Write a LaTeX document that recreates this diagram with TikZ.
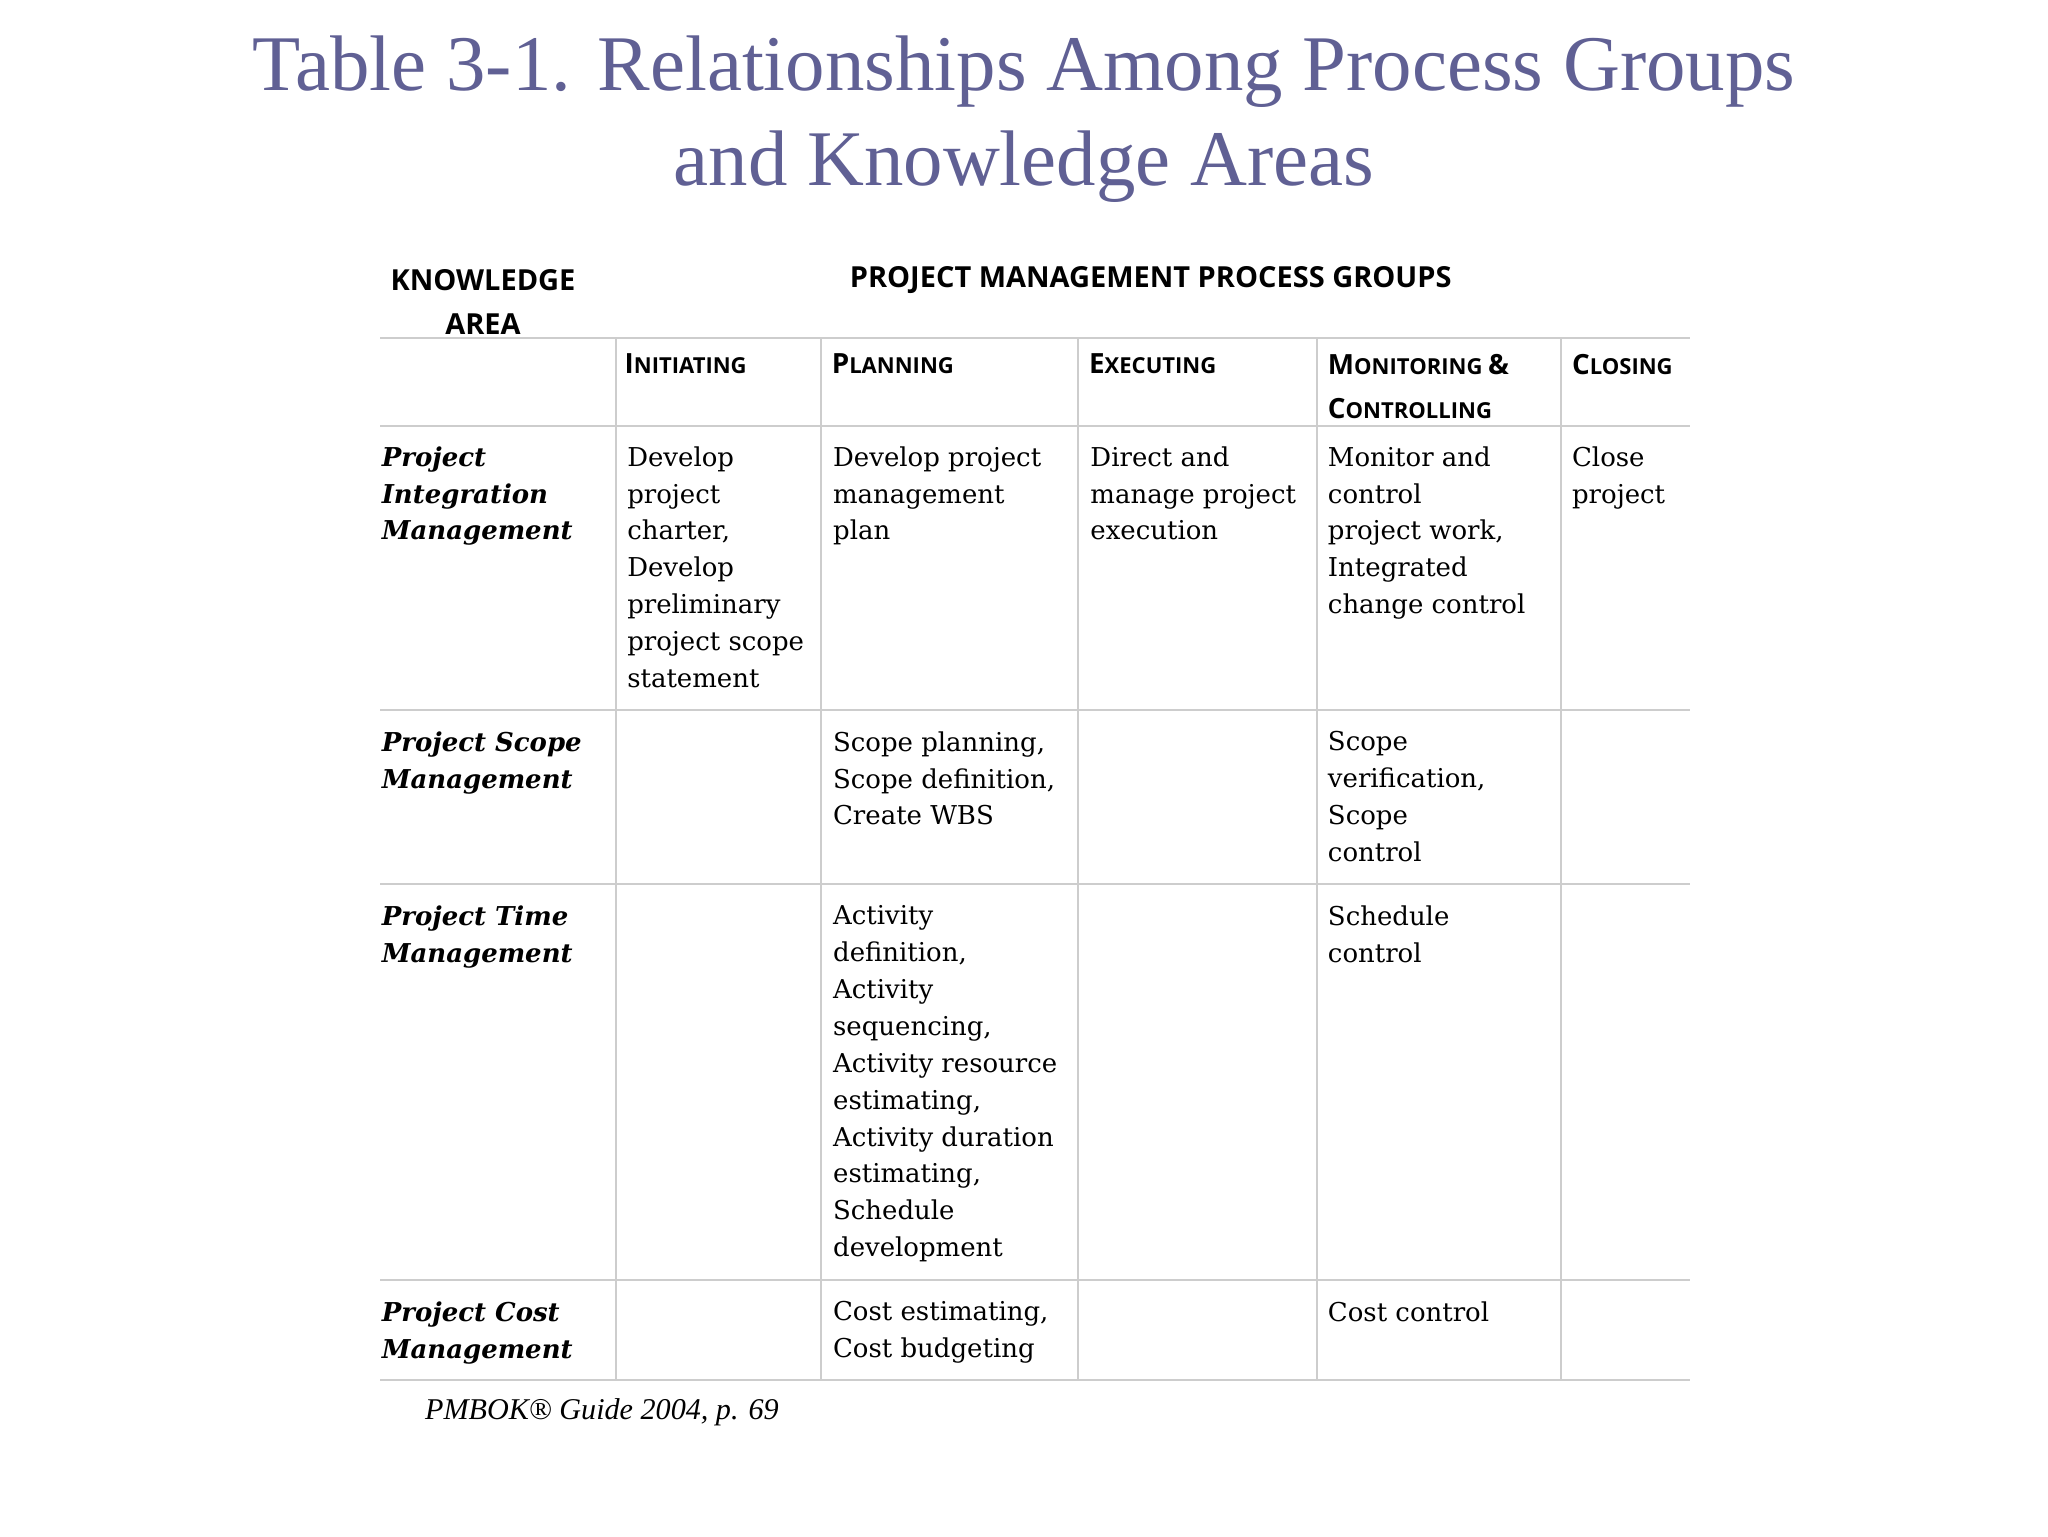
\documentclass[tikz,border=0pt]{standalone}
\usepackage{fontspec}
\setmainfont{Liberation Serif}
\newfontfamily\bodyf{DejaVu Serif}
\newfontfamily\headf{Open Sans}
\definecolor{titlec}{RGB}{96,96,148}
\definecolor{gridc}{RGB}{205,205,205}
\tikzset{x=0.02cm,y=-0.02cm,
 cell/.style={anchor=north west,inner sep=0pt,align=left,font=\bodyf\fontsize{11.2}{15.9}\selectfont},
 rowlab/.style={anchor=north west,inner sep=0pt,align=left,font=\bodyf\bfseries\itshape\fontsize{11.2}{15.9}\selectfont},
 colhead/.style={anchor=north west,inner sep=0pt,align=left,font=\headf\bfseries\fontsize{9.5}{19}\selectfont},
 grid/.style={draw=gridc,line width=1pt}}
\newcommand{\SC}[2]{{\fontsize{12}{19}\selectfont #1}#2}
\begin{document}
\begin{tikzpicture}
\useasboundingbox (0,0) rectangle (1552,1164);
\node[font=\fontsize{34}{41}\selectfont,text=titlec,align=center] (title) at (776,90) {Table 3-1. Relationships Among Process Groups\\and Knowledge Areas};
% grid
\foreach \y in {256,323,538,670,970,1046} \draw[grid] (288,\y) -- (1281,\y);
\foreach \x in {467,622,817,998,1183} \draw[grid] (\x,256) -- (\x,1046);
\node[font=\headf\bfseries\fontsize{12.5}{19}\selectfont,align=center] (ka) at (366,229) {KNOWLEDGE\\AREA};
\node[font=\headf\bfseries\fontsize{12.5}{19}\selectfont] (pg) at (872,212) {PROJECT MANAGEMENT PROCESS GROUPS};
\node[colhead] (h1) at (473,268) {\SC{I}{NITIATING}};
\node[colhead] (h2) at (630,268) {\SC{P}{LANNING}};
\node[colhead] (h3) at (825,268) {\SC{E}{XECUTING}};
\node[colhead] (h4) at (1006,268) {\SC{M}{ONITORING} \SC{\&}{}\\\SC{C}{ONTROLLING}};
\node[colhead] (h5) at (1191,268) {\SC{C}{LOSING}};
% row 1
\node[rowlab] (r1) at (289,338) {Project\\Integration\\Management};
\node[cell] (c11) at (475,338) {Develop\\project\\charter,\\Develop\\preliminary\\project scope\\statement};
\node[cell] (c12) at (631,338) {Develop project\\management\\plan};
\node[cell] (c13) at (826,338) {Direct and\\manage project\\execution};
\node[cell] (c14) at (1006,338) {Monitor and\\control\\project work,\\Integrated\\change control};
\node[cell] (c15) at (1191,338) {Close\\project};
% row 2
\node[rowlab] (r2) at (289,554) {Project Scope\\Management};
\node[cell] (c22) at (631,554) {Scope planning,\\Scope definition,\\Create WBS};
\node[cell] (c24) at (1006,554) {Scope\\verification,\\Scope\\control};
% row 3
\node[rowlab] (r3) at (289,686) {Project Time\\Management};
\node[cell] (c32) at (631,686) {Activity\\definition,\\Activity\\sequencing,\\Activity resource\\estimating,\\Activity duration\\estimating,\\Schedule\\development};
\node[cell] (c34) at (1006,686) {Schedule\\control};
% row 4
\node[rowlab] (r4) at (289,986) {Project Cost\\Management};
\node[cell] (c42) at (631,986) {Cost estimating,\\Cost budgeting};
\node[cell] (c44) at (1006,986) {Cost control};
\node[anchor=west,font=\itshape\fontsize{13}{16}\selectfont] (src) at (316,1070) {PMBOK® Guide 2004, p. 69};
\end{tikzpicture}
\end{document}
